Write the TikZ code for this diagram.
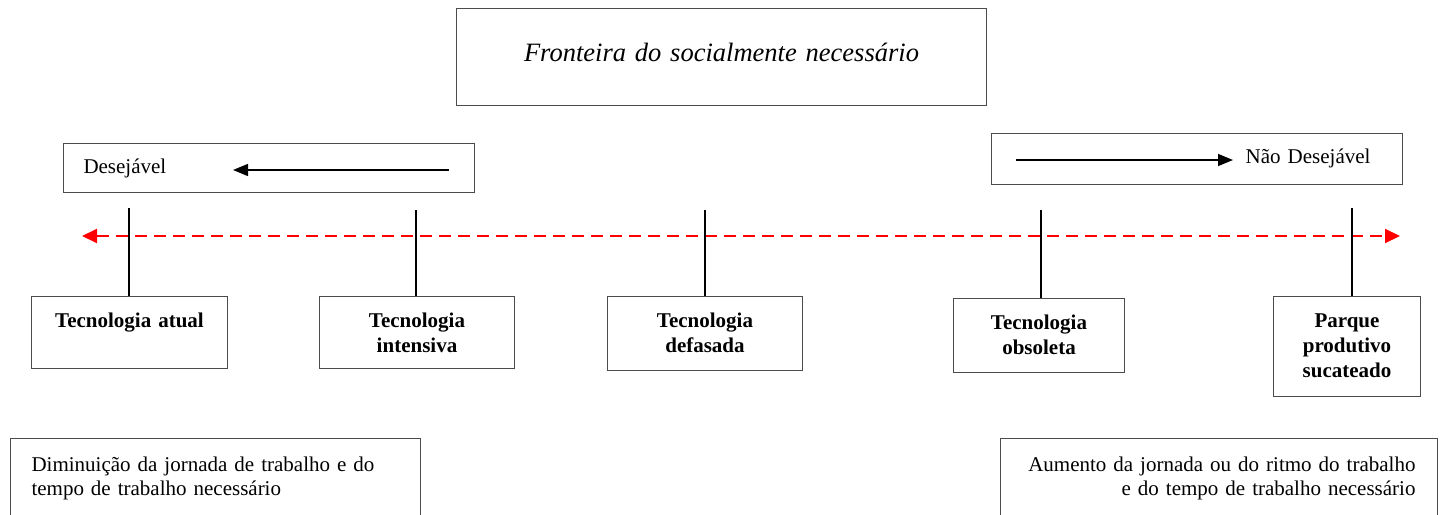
\documentclass[tikz,border=0pt]{standalone}
\usepackage{fontspec}
\setmainfont{Liberation Serif}
\usetikzlibrary{arrows.meta}

\tikzset{
  box/.style={draw=black!70, line width=1pt, inner sep=0pt, anchor=north west},
  techbox/.style={box, font=\fontsize{21}{25}\selectfont\bfseries, align=center,
    text height=31},
  note/.style={box, font=\fontsize{21}{23.5}\selectfont},
  stem/.style={line width=1.6pt},
  redline/.style={red, line width=2pt, dash pattern=on 12pt off 7pt,
    {Triangle[length=15pt,width=14pt]}-{Triangle[length=15pt,width=14pt]}},
  way/.style={line width=1.5pt, -{Triangle[length=15pt,width=12pt]}},
}

\begin{document}
\begin{tikzpicture}[x=1pt,y=-1pt]
	\useasboundingbox (0,0) rectangle (1442,514);
	\clip (0,0) rectangle (1442,514);

	% Fronteira
	\node[box, text width=530, align=center, text height=53, text depth=44,
	  font=\fontsize{26.5}{30}\selectfont\itshape] (fronteira) at (456,8)
	  {Fronteira do socialmente necess\'ario};

	% Desejavel / Nao desejavel
	\node[note, inner xsep=20, text width=371, align=left, text height=30, text depth=19]
	  (desej) at (63,143) {Desej\'avel};
	\coordinate (d1) at (449,170);
	\coordinate (d2) at (233,170);
	\draw[way] (d1) -- (d2);

	\node[note, inner xsep=32, text width=347, align=right, text height=30, text depth=21]
	  (naodesej) at (991,133) {N\~ao Desej\'avel};
	\coordinate (n1) at (1016,160);
	\coordinate (n2) at (1233,160);
	\draw[way] (n1) -- (n2);

	% Linha tracejada
	\coordinate (l) at (82,236);
	\coordinate (r) at (1400,236);
	\draw[redline] (l) -- (r);

	% Tecnologias
	\node[techbox, text width=196, text depth=41] (atual) at (31,296) {Tecnologia atual};
	\node[techbox, text width=195, text depth=41] (intensiva) at (319,296) {Tecnologia\\intensiva};
	\node[techbox, text width=195, text depth=43] (defasada) at (607,296) {Tecnologia\\defasada};
	\node[techbox, text width=171, text depth=43] (obsoleta) at (953,298) {Tecnologia\\obsoleta};
	\node[techbox, text width=147, text depth=69] (parque) at (1273,296) {Parque\\produtivo\\sucateado};

	\coordinate (s1) at (129,208);
	\coordinate (s2) at (416,210);
	\coordinate (s3) at (705,210);
	\coordinate (s4) at (1041,210);
	\coordinate (s5) at (1352,208);
	\draw[stem] (s1) -- (s1 |- atual.north);
	\draw[stem] (s2) -- (s2 |- intensiva.north);
	\draw[stem] (s3) -- (s3 |- defasada.north);
	\draw[stem] (s4) -- (s4 |- obsoleta.north);
	\draw[stem] (s5) -- (s5 |- parque.north);

	% Jornada
	\node[note, inner xsep=21, text width=368, align=left, text height=33, text depth=90]
	  (diminui) at (10,438) {Diminui\c{c}\~ao da jornada de trabalho e do\\tempo de trabalho necess\'ario};
	\node[note, inner xsep=22, text width=393, align=right, text height=33, text depth=90]
	  (aumenta) at (1000,438) {Aumento da jornada ou do ritmo do trabalho\\e do tempo de trabalho necess\'ario};
\end{tikzpicture}
\end{document}
